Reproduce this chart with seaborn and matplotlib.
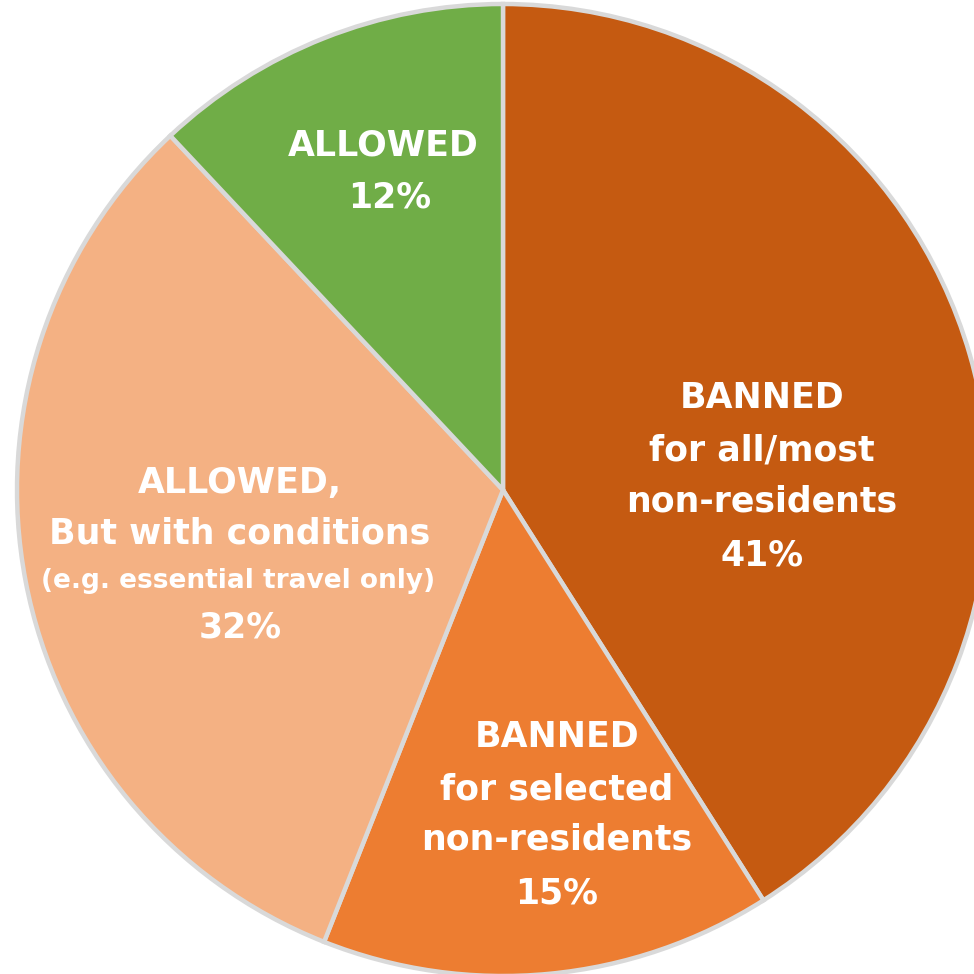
import matplotlib
matplotlib.use("Agg")
import matplotlib.pyplot as plt
import seaborn as sns

sns.set_theme(style="white")
plt.rcParams['font.family'] = ['DejaVu Sans']

categories = ["BANNED all/most", "BANNED selected", "ALLOWED with conditions", "ALLOWED"]
values = [41, 15, 32, 12]
colors = ["#C55A11", "#ED7D31", "#F4B183", "#70AD47"]

W = 974
fig = plt.figure(figsize=(9.74, 9.74), dpi=100)
cx, cy, r = 503, 490, 486
ax = fig.add_axes([(cx - r) / W, (W - cy - r) / W, 2 * r / W, 2 * r / W])
ax.pie(values, colors=colors, startangle=90, counterclock=False, radius=1,
       wedgeprops=dict(edgecolor="#D9D9D9", linewidth=3.2))
ax.set_xlim(-1, 1)
ax.set_ylim(-1, 1)
ax.set_aspect("equal")
ax.axis("off")

def px(x, y):
    return ((x - cx) / r, (cy - y) / r)

kw = dict(color="white", fontweight="bold", ha="center", va="center")
big = 25
small = 19

for (x, y), s in [((762, 398), "BANNED"), ((762, 450), "for all/most"),
                  ((762, 502), "non-residents"), ((762, 555), "41%")]:
    ax.text(*px(x, y), s, fontsize=big, **kw)

for (x, y), s in [((557, 737), "BANNED"), ((557, 789), "for selected"),
                  ((557, 840), "non-residents"), ((557, 893), "15%")]:
    ax.text(*px(x, y), s, fontsize=big, **kw)

ax.text(*px(240, 483), "ALLOWED,", fontsize=big, **kw)
ax.text(*px(240, 533), "But with conditions", fontsize=big, **kw)
ax.text(*px(238, 581), "(e.g. essential travel only)", fontsize=small, **kw)
ax.text(*px(240, 628), "32%", fontsize=big, **kw)

ax.text(*px(383, 145), "ALLOWED", fontsize=big, **kw)
ax.text(*px(390, 198), "12%", fontsize=big, **kw)

fig.savefig("out.png", dpi=100, facecolor="white")
